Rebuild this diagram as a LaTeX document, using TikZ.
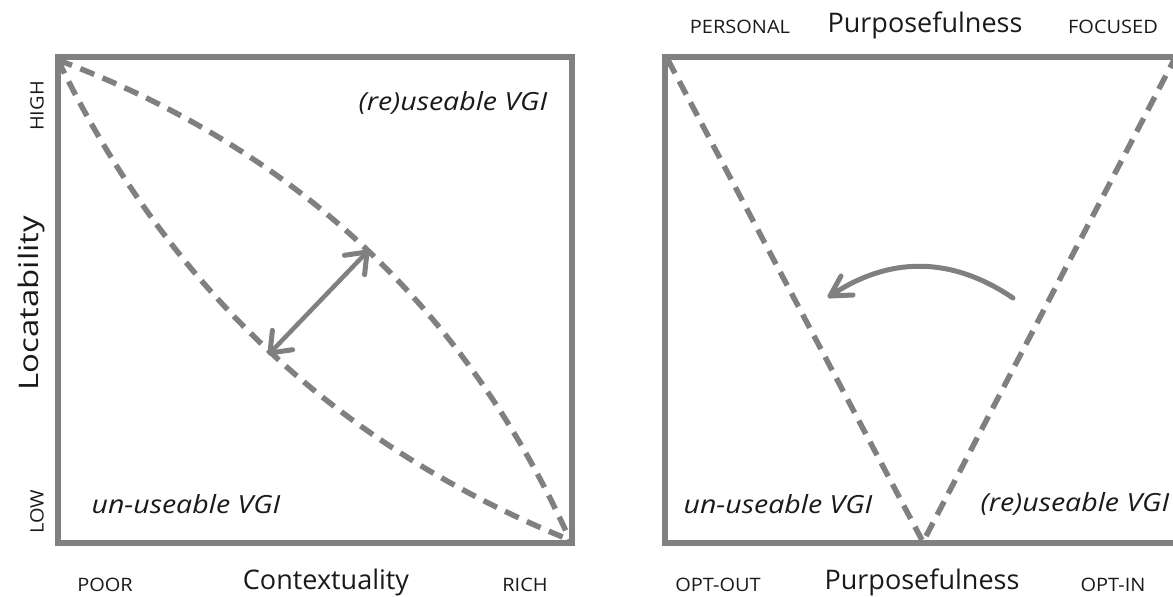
\documentclass[tikz,border=0pt]{standalone}
\usepackage{fontspec}
\setmainfont{Open Sans}
\definecolor{lg}{HTML}{808080}
\definecolor{tx}{HTML}{1A1A1A}
\newcommand{\wsm}[1]{\scalebox{1.08}[1]{#1}}
\newcommand{\wit}[1]{\scalebox{1.14}[1]{#1}}
\tikzset{
  frame/.style={draw=lg, line width=5.5pt, line join=miter},
  dashline/.style={draw=lg, line width=5.5pt, dash pattern=on 15pt off 9pt},
  shaft/.style={draw=lg, line width=5pt, line cap=round},
  dshaft/.style={draw=lg, line width=4.5pt, line cap=round},
  headline/.style={draw=lg, line width=5pt, line cap=round, line join=round},
  small/.style={text=tx, font=\fontsize{18.5}{20}\selectfont, inner sep=0pt},
  big/.style={text=tx, font=\fontsize{27}{30}\selectfont, inner sep=0pt},
  lab/.style={text=tx, font=\fontsize{25}{28}\selectfont\itshape, inner sep=0pt}
}
\begin{document}
\begin{tikzpicture}[x=1pt,y=-1pt]
\useasboundingbox (0,0) rectangle (1173,597);
\clip (0,0) rectangle (1173,597);
% left panel
\coordinate (LA) at (58,60);
\coordinate (LB) at (570,540);
\draw[frame] (58,57) rectangle (572,543);
\draw[dashline] (LA) .. controls (295,149) and (466,309) .. (LB);
\draw[dashline] (LA) .. controls (167,286) and (337,446) .. (LB);
\coordinate (d1) at (270,353);
\coordinate (d2) at (367,252);
\coordinate (d2a) at (364.6,274.7);
\coordinate (d2b) at (344.4,255.3);
\coordinate (d1a) at (292.6,349.7);
\coordinate (d1b) at (272.4,330.3);
\draw[dshaft] (d1) -- (d2);
\draw[headline] (d2a) -- (d2) -- (d2b);
\draw[headline] (d1a) -- (d1) -- (d1b);
\node[small, rotate=90] (high) at (37,106) {\wsm{HIGH}};
\node[small, rotate=90] (low) at (37,512) {\wsm{LOW}};
\node[big, rotate=90] (loc) at (31,303) {\scalebox{1.22}[1]{Locatability}};
\node[small] (poor) at (105,585) {\wsm{POOR}};
\node[big] (ctx) at (326,582) {Contextuality};
\node[small] (rich) at (525,585) {\wsm{RICH}};
\node[lab] (reuse1) at (453,103) {\wit{(re)useable VGI}};
\node[lab] (unuse1) at (186,504) {\wit{un-useable VGI}};
% right panel
\coordinate (RA) at (668,60);
\coordinate (RV) at (923,542);
\coordinate (RB) at (1175,58);
\draw[frame] (665,57) rectangle (1200,543);
\draw[dashline] (RA) -- (RV) -- (RB);
\coordinate (c1) at (1013,298);
\coordinate (c2) at (830,296);
\coordinate (c2a) at (841,276);
\coordinate (c2b) at (853,295);
\draw[shaft] (c1) .. controls (951,256) and (889,256) .. (c2);
\draw[headline] (c2a) -- (c2) -- (c2b);
\node[small] (pers) at (740,27) {\wsm{PERSONAL}};
\node[big] (purp1) at (925,25) {Purposefulness};
\node[small] (foc) at (1113,27) {\wsm{FOCUSED}};
\node[small] (optout) at (718,585) {\wsm{OPT-OUT}};
\node[big] (purp2) at (922,582) {Purposefulness};
\node[small] (optin) at (1113,585) {\wsm{OPT-IN}};
\node[lab] (unuse2) at (778,504) {\wit{un-useable VGI}};
\node[lab] (reuse2) at (1075,504) {\wit{(re)useable VGI}};
\end{tikzpicture}
\end{document}
